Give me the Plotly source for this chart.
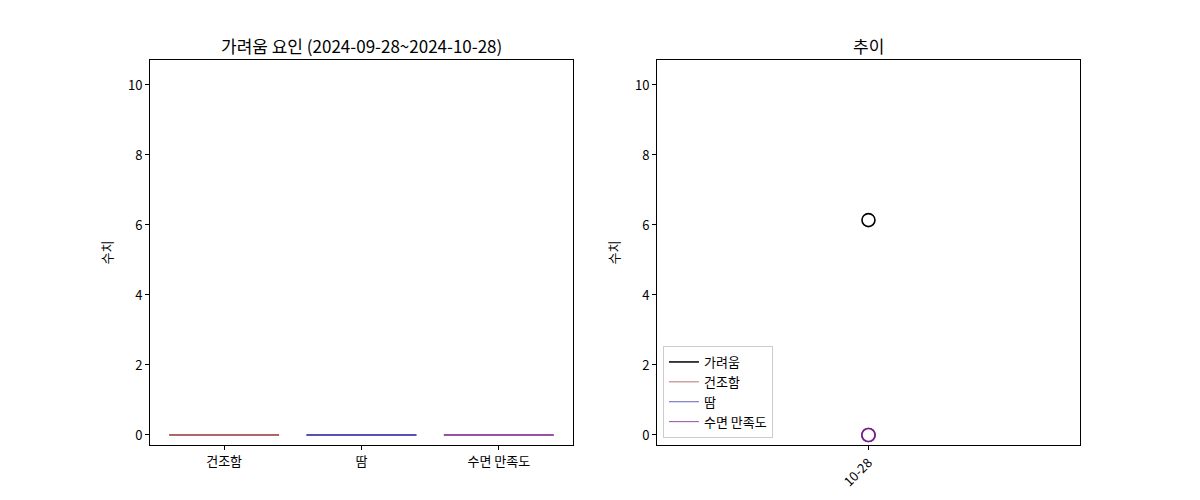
import plotly.graph_objects as go
from plotly.subplots import make_subplots

# 막대 그래프 데이터 (기간 평균)
factors = ["건조함", "땀", "수면 만족도"]
factor_values = [0, 0, 0]
factor_colors = ["#a0524f", "#3b3ba6", "#8a3a98"]

# 추이 데이터
dates = ["10-28"]
itch = [6.14]
dryness = [0]
sweat = [0]
sleep = [0]

series_names = ["가려움", "건조함", "땀", "수면 만족도"]
series_values = [itch, dryness, sweat, sleep]
series_colors = ["#000000", "#a0524f", "#3b3ba6", "#7a1f8a"]
series_widths = [1.5, 0.8, 0.8, 0.8]

FONT = "Noto Sans CJK KR"

fig = make_subplots(rows=1, cols=2)

idx = list(range(len(factors)))
fig.add_trace(go.Bar(x=idx, y=factor_values, width=0.8,
                     marker=dict(color=factor_colors, line=dict(color=factor_colors, width=1)),
                     showlegend=False), row=1, col=1)
# 높이가 0인 막대도 테두리선이 보이도록
for i, v, c in zip(idx, factor_values, factor_colors):
    fig.add_trace(go.Scatter(x=[i - 0.4, i + 0.4], y=[v, v], mode="lines",
                             line=dict(color=c, width=1), showlegend=False,
                             hoverinfo="skip"), row=1, col=1)

for name, vals, c, w in zip(series_names, series_values, series_colors, series_widths):
    fig.add_trace(go.Scatter(x=dates, y=vals, mode="lines", name=name,
                             line=dict(color=c, width=w)), row=1, col=2)
for name, vals, c in zip(series_names, series_values, series_colors):
    fig.add_trace(go.Scatter(x=dates, y=vals, mode="markers", showlegend=False,
                             marker=dict(symbol="circle", size=13, color="white",
                                         line=dict(color=c, width=1.6))), row=1, col=2)

axis_style = dict(showline=True, mirror=True, linecolor="black", linewidth=1,
                  ticks="outside", ticklen=4, tickcolor="black", showgrid=False,
                  zeroline=False, tickfont=dict(size=13, color="black"))

fig.update_xaxes(axis_style)
fig.update_yaxes(axis_style)
fig.update_xaxes(domain=[0.1183, 0.4708], range=[-0.54, 2.54], tickvals=idx,
                 ticktext=factors, row=1, col=1)
fig.update_xaxes(domain=[0.5408, 0.8933], type="category", range=[-1, 1],
                 tickangle=-45, row=1, col=2)
fig.update_yaxes(range=[-0.286, 10.714], tickvals=[0, 2, 4, 6, 8, 10],
                 title=dict(text="수치", font=dict(size=13, color="black"), standoff=12))
fig.update_yaxes(domain=[0.126, 0.896])

fig.add_annotation(text="가려움 요인 (2024-09-28~2024-10-28)", x=0.29455, y=0.924,
                   xref="paper", yref="paper", showarrow=False,
                   font=dict(size=17, color="black"), xanchor="center", yanchor="middle")
fig.add_annotation(text="추이", x=0.71705, y=0.924, xref="paper", yref="paper",
                   showarrow=False, font=dict(size=17, color="black"),
                   xanchor="center", yanchor="middle")

fig.update_layout(
    width=1200, height=500,
    margin=dict(l=0, r=0, t=0, b=0),
    plot_bgcolor="white", paper_bgcolor="white",
    font=dict(family=FONT, color="black"),
    legend=dict(x=0.5458, y=0.14, xanchor="left", yanchor="bottom",
                bgcolor="rgba(255,255,255,0.8)", bordercolor="#cccccc", borderwidth=1,
                font=dict(size=13), tracegroupgap=0, itemwidth=30),
    bargap=0.2,
)

fig.write_html("out.html")
